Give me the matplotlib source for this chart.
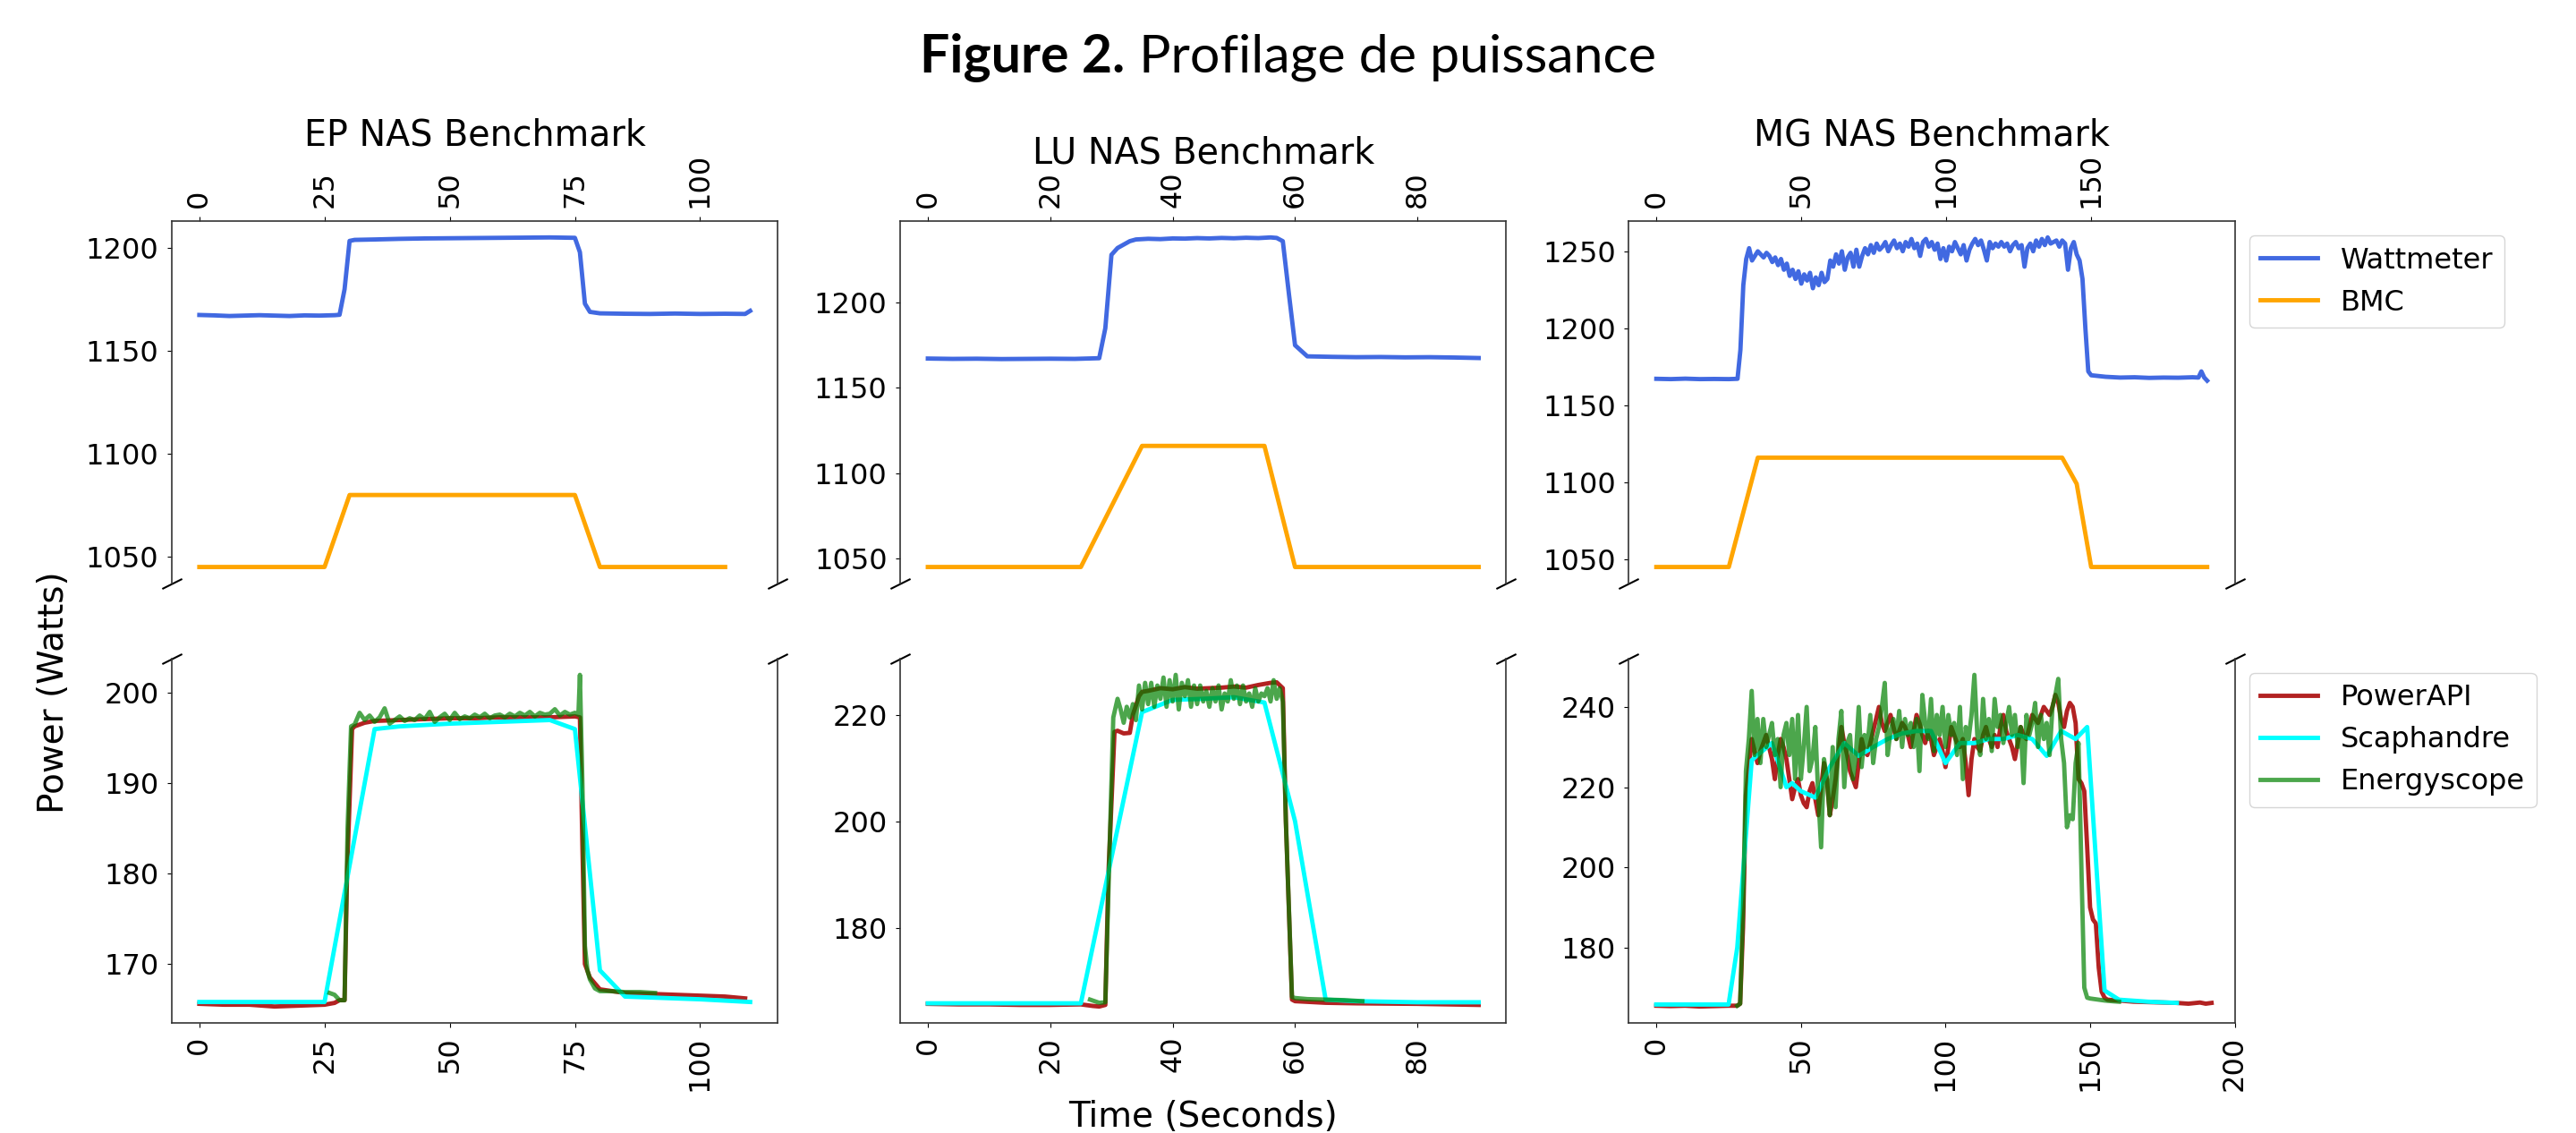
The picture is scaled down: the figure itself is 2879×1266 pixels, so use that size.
import matplotlib
matplotlib.use("Agg")
import matplotlib.pyplot as plt

plt.rcParams['font.family'] = ['DejaVu Sans']
plt.rcParams['font.size'] = 23
plt.rcParams['axes.linewidth'] = 1.2
plt.rcParams['axes.edgecolor'] = '#333333'
plt.rcParams['xtick.major.pad'] = 7
plt.rcParams['ytick.major.pad'] = 7

# ---------------- EP NAS Benchmark ----------------
ep_watt_x = [0, 3, 6, 9, 12, 15, 18, 21, 24, 27, 28, 29, 30, 31, 35, 40, 45, 50, 55, 60, 65, 70,
             75, 76, 77, 78, 80, 85, 90, 95, 100, 105, 109, 110]
ep_watt = [1167.5, 1167.3, 1167.0, 1167.2, 1167.4, 1167.2, 1167.0, 1167.3, 1167.2, 1167.4, 1167.6,
           1180, 1203.5, 1204.0, 1204.2, 1204.5, 1204.7, 1204.8, 1204.9, 1205.0, 1205.1, 1205.2,
           1205.0, 1198, 1173, 1169, 1168.3, 1168.1, 1168.0, 1168.2, 1168.0, 1168.1, 1168.0, 1169.5]
ep_bmc_x = [0, 25, 30, 75, 80, 105]
ep_bmc = [1045, 1045, 1080, 1080, 1045, 1045]

ep_papi_x = [0, 5, 10, 15, 20, 25, 27, 28, 29, 29.5, 30.5, 31, 33, 35, 40, 45, 50, 55, 60, 65, 70,
             75, 76, 76.5, 77, 78, 80, 85, 90, 95, 100, 105, 109]
ep_papi = [165.6, 165.5, 165.5, 165.3, 165.4, 165.5, 165.7, 166.0, 166.0, 180, 196, 196.3, 196.7,
           196.9, 197.0, 197.1, 197.2, 197.2, 197.3, 197.3, 197.3, 197.4, 197.3, 183, 170, 168.5,
           167.2, 166.8, 166.7, 166.6, 166.5, 166.4, 166.2]

ep_scaph_x = [0, 25, 35, 40, 50, 60, 70, 75, 80, 85, 100, 110]
ep_scaph = [165.8, 165.8, 196.0, 196.3, 196.6, 196.8, 197.0, 196.0, 169.3, 166.4, 166.1, 165.8]

ep_egy_x = [26, 27, 28, 29, 29.6, 30.3, 31, 32, 33, 34, 35, 36, 37, 38, 39, 40, 41, 42, 43, 44, 45,
            46, 47, 48, 49, 50, 51, 52, 53, 54, 55, 56, 57, 58, 59, 60, 61, 62, 63, 64, 65, 66, 67,
            68, 69, 70, 71, 72, 73, 74, 75, 75.7, 76, 76.5, 77, 77.5, 78, 79, 80, 82, 85, 88, 91]
ep_egy = [166.8, 166.6, 166.0, 166.0, 185, 196.3, 196.5, 197.8, 197.0, 197.5, 196.8, 197.3, 198.3,
          196.6, 197.0, 197.4, 196.9, 197.2, 197.0, 197.5, 197.1, 197.9, 196.8, 197.3, 197.7, 197.0,
          197.8, 197.1, 197.4, 197.2, 197.6, 197.3, 197.7, 197.2, 197.5, 197.6, 197.3, 197.7, 197.4,
          197.8, 197.5, 197.9, 197.4, 197.8, 197.6, 197.7, 198.2, 197.5, 197.9, 197.6, 197.8, 197.6,
          202.0, 190, 172, 169.3, 168.3, 167.3, 167.0, 167.0, 166.9, 166.9, 166.8]

# ---------------- LU NAS Benchmark ----------------
lu_watt_x = [0, 4, 8, 12, 16, 20, 24, 28, 29, 30, 31, 32, 33, 34, 36, 38, 40, 42, 44, 46, 48, 50,
             52, 54, 56, 57, 58, 59, 60, 62, 66, 70, 74, 78, 82, 86, 90]
lu_watt = [1167.2, 1167.0, 1167.1, 1166.9, 1167.0, 1167.1, 1167.0, 1167.4, 1185, 1228, 1232, 1234,
           1236, 1237, 1237.4, 1237.2, 1237.6, 1237.5, 1237.8, 1237.6, 1237.9, 1237.7, 1238.0,
           1237.8, 1238.2, 1237.9, 1236, 1205, 1175, 1168.5, 1168.2, 1168.0, 1168.1, 1167.9,
           1168.0, 1167.8, 1167.5]
lu_bmc_x = [0, 25, 35, 55, 60, 90]
lu_bmc = [1045, 1045, 1116, 1116, 1045, 1045]

lu_papi_x = [0, 5, 10, 15, 20, 25, 27, 28, 29, 29.5, 30.5, 31, 32, 33, 33.5, 34.5, 35, 36, 38, 40,
             42, 44, 46, 48, 50, 52, 54, 56, 57, 58, 58.5, 59.5, 60, 65, 70, 80, 90]
lu_papi = [165.7, 165.6, 165.6, 165.5, 165.5, 165.6, 165.3, 165.2, 165.5, 190, 216.8, 217.0, 216.5,
           216.6, 220, 223.5, 224.3, 224.5, 225.0, 224.8, 225.2, 224.9, 225.0, 225.1, 225.3, 225.1,
           225.6, 226.0, 226.1, 225.0, 200, 166.5, 166.2, 165.9, 165.8, 165.7, 165.5]

lu_scaph_x = [0, 25, 35, 40, 45, 50, 55, 60, 65, 70, 80, 90]
lu_scaph = [165.8, 165.8, 220.5, 222.8, 223.0, 223.3, 222.3, 200.0, 166.5, 166.2, 166.0, 166.0]

lu_egy_x = [26.5, 27, 28, 29, 29.7, 30.3, 31, 31.5, 32, 32.5, 33, 33.5, 34, 34.5, 35, 35.5, 36,
            36.5, 37, 37.5, 38, 38.5, 39, 39.5, 40, 40.5, 41, 41.5, 42, 42.5, 43, 43.5, 44, 44.5,
            45, 45.5, 46, 46.5, 47, 47.5, 48, 48.5, 49, 49.5, 50, 50.5, 51, 51.5, 52, 52.5, 53,
            53.5, 54, 54.5, 55, 55.5, 56, 56.5, 57, 57.5, 58, 58.5, 59.5, 60, 62, 65, 68, 71]
lu_egy = [166.5, 166.3, 165.9, 166.0, 195, 219.5, 223.0, 221, 218.5, 221.5, 219.5, 222, 219, 225.5,
          221, 226, 222, 226, 221.5, 225.5, 223, 227, 221.5, 226.5, 222.5, 227.5, 221, 226, 223.5,
          226.5, 221.5, 225.5, 222, 225.5, 222.5, 224.5, 221.5, 225, 222.5, 225.5, 221, 224, 222.5,
          226.5, 223, 225.5, 222, 225.5, 222.5, 224, 221.5, 225, 222.5, 224, 223.5, 225, 222.5,
          226.5, 223, 225, 222.5, 200, 167, 166.8, 166.6, 166.5, 166.4, 166.2]

# ---------------- MG NAS Benchmark ----------------
mg_watt_x = [0, 5, 10, 15, 20, 25, 28, 29] + list(range(30, 151)) + [155, 160, 165, 170, 175, 180,
                                                                     185, 187, 188, 189, 190]
mg_watt = [1167.2, 1167.0, 1167.3, 1167.0, 1167.1, 1167.0, 1167.2, 1186,
           1228, 1245, 1252, 1244, 1247, 1250, 1248, 1246, 1249, 1247,
           1243, 1246, 1241, 1245, 1238, 1242, 1234, 1238, 1232, 1237,
           1229, 1235, 1231, 1236, 1226, 1233, 1228, 1236, 1230, 1232,
           1244, 1240, 1248, 1242, 1250, 1238, 1246, 1249, 1240, 1251,
           1240, 1247, 1252, 1248, 1254, 1249, 1255, 1251, 1253, 1256,
           1250, 1254, 1257, 1252, 1255, 1250, 1256, 1253, 1258, 1252,
           1255, 1247, 1256, 1258, 1253, 1256, 1251, 1255, 1245, 1252,
           1244, 1253, 1250, 1256, 1252, 1248, 1254, 1244, 1251, 1255,
           1258, 1254, 1257, 1251, 1244, 1256, 1252, 1255, 1253, 1256,
           1253, 1255, 1250, 1254, 1256, 1252, 1254, 1240, 1252, 1255,
           1250, 1257, 1253, 1258, 1254, 1259, 1255, 1256, 1257, 1253,
           1257, 1255, 1238, 1252, 1256, 1248, 1244, 1232, 1200, 1172, 1169.5,
           1168.5, 1168.0, 1168.2, 1167.8, 1168.0, 1167.9, 1168.2, 1168.0, 1172, 1168, 1166]
mg_bmc_x = [0, 25, 35, 140, 145, 150, 190]
mg_bmc = [1045, 1045, 1116, 1116, 1099, 1045, 1045]

mg_papi_x = [0, 5, 10, 15, 20, 25, 28] + list(range(29, 157)) + [160, 165, 170, 175, 180, 184, 188,
                                                                 190, 192]
mg_papi = [165.5, 165.4, 165.5, 165.3, 165.4, 165.5, 165.5,
           166, 185, 218, 225, 232, 229, 226, 229, 231, 233,
           230, 227, 222, 228, 232, 230, 227, 222, 217, 220,
           222, 218, 216, 215, 219, 221, 217, 213, 220, 226,
           222, 213, 217, 222, 229, 235, 231, 228, 224, 222,
           220, 226, 232, 229, 228, 231, 234, 237, 240, 236,
           234, 236, 238, 235, 232, 234, 236, 235, 233, 230,
           234, 238, 236, 233, 231, 234, 232, 228, 230, 232,
           229, 225, 230, 235, 233, 231, 230, 232, 226, 218,
           227, 232, 230, 229, 233, 235, 232, 230, 233, 230,
           235, 238, 234, 232, 230, 227, 231, 235, 233, 232,
           235, 238, 237, 236, 238, 240, 239, 238, 240, 243,
           241, 237, 235, 239, 241, 240, 236, 222, 221, 219,
           205, 190, 187, 186, 175, 169, 167.5, 167,
           166.8, 166.5, 166.4, 166.3, 166.2, 166.0, 166.3, 166.0, 166.2]

mg_scaph_x = [0, 25, 28, 33, 35, 40, 45, 47, 50, 55, 60, 65, 70, 75, 80, 85, 90, 95, 100, 105, 110,
              115, 120, 125, 130, 135, 140, 145, 149, 155, 160, 170, 180]
mg_scaph = [165.8, 165.8, 180, 226.7, 228, 231, 220, 221, 219, 217.4, 225, 231, 227.8, 230, 232,
            233.4, 234, 234, 226, 231, 231, 232, 232, 233, 232, 227.8, 234, 232, 235, 169.3, 167,
            166.5, 166.2]

mg_egy_x = [28] + list(range(29, 151)) + [152, 155, 158, 160]
mg_egy = [165.5,
          166, 190, 224, 232, 244, 228, 237, 226, 237, 230,
          233, 236, 228, 232, 220, 233, 236, 228, 237, 222,
          238, 222, 230, 240, 224, 227, 235, 218, 205, 227,
          222, 213, 230, 215, 232, 239, 220, 231, 233, 222,
          228, 240, 225, 233, 230, 238, 226, 232, 235, 240,
          246, 228, 234, 237, 232, 239, 230, 237, 233, 236,
          230, 237, 224, 243, 236, 232, 242, 229, 238, 233,
          240, 230, 238, 233, 236, 228, 240, 222, 235, 232,
          238, 248, 233, 228, 242, 232, 237, 229, 242, 235,
          238, 231, 236, 240, 233, 238, 230, 235, 221, 238,
          233, 236, 241, 230, 238, 232, 236, 228, 240, 243,
          247, 232, 226, 210, 213, 212, 226, 231, 200, 170,
          167.5, 167.3,
          167.1, 166.8, 166.6, 166.5]

titles = ['EP NAS Benchmark', 'LU NAS Benchmark', 'MG NAS Benchmark']
xticks = [[0, 25, 50, 75, 100], [0, 20, 40, 60, 80], [0, 50, 100, 150, 200]]
top_yticks = [[1050, 1100, 1150, 1200], [1050, 1100, 1150, 1200], [1050, 1100, 1150, 1200, 1250]]
bot_yticks = [[170, 180, 190, 200], [180, 200, 220], [180, 200, 220, 240]]

top_data = [(ep_watt_x, ep_watt, ep_bmc_x, ep_bmc),
            (lu_watt_x, lu_watt, lu_bmc_x, lu_bmc),
            (mg_watt_x, mg_watt, mg_bmc_x, mg_bmc)]
bot_data = [(ep_papi_x, ep_papi, ep_scaph_x, ep_scaph, ep_egy_x, ep_egy),
            (lu_papi_x, lu_papi, lu_scaph_x, lu_scaph, lu_egy_x, lu_egy),
            (mg_papi_x, mg_papi, mg_scaph_x, mg_scaph, mg_egy_x, mg_egy)]

fig = plt.figure(figsize=(28.79, 12.66), dpi=100)

lefts = [0.0667, 0.3495, 0.6323]
width = 0.2352
lw = 3.5

# break marks
d = .5
brk = dict(marker=[(-1, -d), (1, d)], markersize=16, linestyle="none", color='k', mec='k',
           mew=1.5, clip_on=False)

for i in range(3):
    ax_t = fig.add_axes([lefts[i], 0.485, width, 0.320])
    ax_b = fig.add_axes([lefts[i], 0.097, width, 0.322])

    wx, wy, bx, by = top_data[i]
    ax_t.plot(wx, wy, color='royalblue', lw=lw, label='Wattmeter')
    ax_t.plot(bx, by, color='orange', lw=lw, label='BMC')

    px, py, sx, sy, ex, ey = bot_data[i]
    ax_b.plot(px, py, color='firebrick', lw=lw, label='PowerAPI')
    ax_b.plot(sx, sy, color='cyan', lw=lw, label='Scaphandre')
    ax_b.plot(ex, ey, color='green', lw=lw, alpha=0.7, label='Energyscope')

    ax_t.spines['bottom'].set_visible(False)
    ax_b.spines['top'].set_visible(False)
    ax_t.xaxis.tick_top()
    ax_t.set_xticks(xticks[i])
    ax_b.set_xticks(xticks[i])
    ax_t.set_yticks(top_yticks[i])
    ax_b.set_yticks(bot_yticks[i])
    ax_t.tick_params(axis='x', labelrotation=90)
    ax_b.tick_params(axis='x', labelrotation=90)
    ax_b.set_xlim(ax_t.get_xlim())
    ax_t.set_title(titles[i], fontsize=28.5)

    ax_t.plot([0, 1], [0, 0], transform=ax_t.transAxes, **brk)
    ax_b.plot([0, 1], [1, 1], transform=ax_b.transAxes, **brk)

    if i == 1:
        ax_b.set_xlabel('Time (Seconds)', fontsize=28, labelpad=22)
    if i == 2:
        ax_t.legend(loc='upper left', bbox_to_anchor=(1.0, 1.0))
        ax_b.legend(loc='upper left', bbox_to_anchor=(1.0, 1.0))

fig.text(0.021, 0.389, 'Power (Watts)', rotation=90, va='center', ha='center', fontsize=28)

# title: bold "Figure 2." followed by regular text
renderer = fig.canvas.get_renderer()
t1 = fig.text(0, 0.949, 'Figure 2.', fontsize=42.5, fontweight='bold', family='Lato', va='center')
t2 = fig.text(0, 0.949, ' Profilage de puissance', fontsize=42.5, family='Lato', va='center')
w1 = t1.get_window_extent(renderer).width
w2 = t2.get_window_extent(renderer).width
figw = fig.bbox.width
x0 = (figw - (w1 + w2)) / 2
t1.set_x(x0 / figw)
t2.set_x((x0 + w1) / figw)

fig.savefig('out.png', dpi=100)
